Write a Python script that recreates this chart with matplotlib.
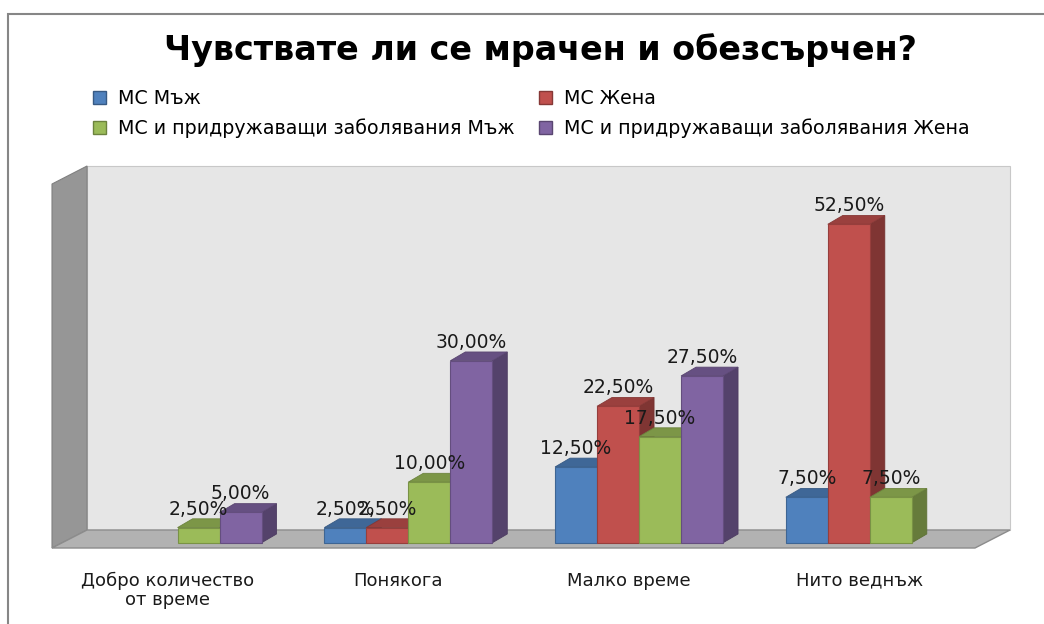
import matplotlib.pyplot as plt
import matplotlib.colors as mcolors
from matplotlib.patches import Polygon, Rectangle, Patch

# -------------------------------
# DATA
# -------------------------------
categories = ["Добро количество\nот време", "Понякога", "Малко време", "Нито веднъж"]
series_names = ["МС Мъж", "МС Жена",
                "МС и придружаващи заболявания Мъж",
                "МС и придружаващи заболявания Жена"]
ms_men = [0, 2.5, 12.5, 7.5]
ms_women = [0, 2.5, 22.5, 52.5]
comorb_men = [2.5, 10.0, 17.5, 7.5]
comorb_women = [5.0, 30.0, 27.5, 0]
colors = ["#4F81BD", "#C0504D", "#9BBB59", "#8064A2"]

series = [ms_men, ms_women, comorb_men, comorb_women]
title = "Чувствате ли се мрачен и обезсърчен?"

Y_MAX = 60


def shade(c, k):
    r, g, b = mcolors.to_rgb(c)
    return (r * k, g * k, b * k)


# -------------------------------
# FIGURE / FAKE 3D BOX
# -------------------------------
fig = plt.figure(figsize=(10.44, 6.24), dpi=100)
ax = fig.add_axes([52 / 1044, 76 / 624, 923 / 1044, 364 / 624])
ax.set_xlim(-0.5, len(categories) - 0.5)
ax.set_ylim(0, Y_MAX)
ax.axis("off")

DX, DY = 0.152, 2.97      # floor depth (x in category units, y in %)
depth_pos = 0.29          # where bar fronts sit inside the floor depth
bw = 0.182                # bar width
ddx, ddy = 0.065, 1.45    # bar depth
x_lo, x_hi = -0.5, len(categories) - 0.5

# back wall
ax.add_patch(Polygon([(x_lo + DX, DY), (x_hi + DX, DY), (x_hi + DX, Y_MAX + DY), (x_lo + DX, Y_MAX + DY)],
                     fc="#E6E6E6", ec="#C8C8C8", lw=0.8, clip_on=False, zorder=0))
# side wall
ax.add_patch(Polygon([(x_lo, 0), (x_lo + DX, DY), (x_lo + DX, Y_MAX + DY), (x_lo, Y_MAX)],
                     fc="#969696", ec="#808080", lw=0.8, clip_on=False, zorder=1))
# floor
ax.add_patch(Polygon([(x_lo, 0), (x_hi, 0), (x_hi + DX, DY), (x_lo + DX, DY)],
                     fc="#B2B2B2", ec="#8C8C8C", lw=1.0, clip_on=False, zorder=1))

# -------------------------------
# BARS
# -------------------------------
base = depth_pos * DY
for k, (vals, c) in enumerate(zip(series, colors)):
    for i, v in enumerate(vals):
        if v == 0:
            continue
        x0 = i + depth_pos * DX + (k - 2) * bw
        x1 = x0 + bw
        top = base + v
        z = 10 + k * 3
        ax.add_patch(Polygon([(x1, base), (x1 + ddx, base + ddy), (x1 + ddx, top + ddy), (x1, top)],
                             fc=shade(c, 0.66), ec=shade(c, 0.6), lw=0.6, clip_on=False, zorder=z))
        ax.add_patch(Polygon([(x0, top), (x0 + ddx, top + ddy), (x1 + ddx, top + ddy), (x1, top)],
                             fc=shade(c, 0.8), ec=shade(c, 0.7), lw=0.6, clip_on=False, zorder=z + 1))
        ax.bar(x0, v, width=bw, bottom=base, align="edge", color=c,
               edgecolor=shade(c, 0.78), linewidth=0.8, zorder=z + 2, clip_on=False)
        label = f"{v:.2f}".replace(".", ",") + "%"
        ax.text(x0 + bw / 2, top + ddy + 0.7, label, ha="center", va="baseline",
                fontsize=13.5, color="#1a1a1a", zorder=50)

# category labels
for i, cat in enumerate(categories):
    ax.text(i, -3.9, cat, ha="center", va="top", fontsize=13,
            color="#1a1a1a", linespacing=1.05)

# -------------------------------
# TITLE, LEGEND, FRAME
# -------------------------------
fig.text(540 / 1044, 1 - 50 / 624, title, ha="center", va="center",
         fontsize=24, fontweight="bold")

handles = [Patch(facecolor=c, edgecolor=shade(c, 0.7)) for c in colors]
order = [0, 2, 1, 3]
fig.legend([handles[j] for j in order], [series_names[j] for j in order],
           ncol=2, loc="upper left", bbox_to_anchor=(76 / 1044, 1 - 72 / 624),
           frameon=False, handlelength=0.7, handleheight=0.7, handletextpad=0.6,
           columnspacing=1.28, labelspacing=0.55, prop={"size": 13.7})

fig.add_artist(Rectangle((8 / 1044, -0.1), 1.1, 1 - 14 / 624 + 0.1, transform=fig.transFigure,
                         fill=False, ec="#868686", lw=1.5))

fig.savefig("out.png", dpi=100)
